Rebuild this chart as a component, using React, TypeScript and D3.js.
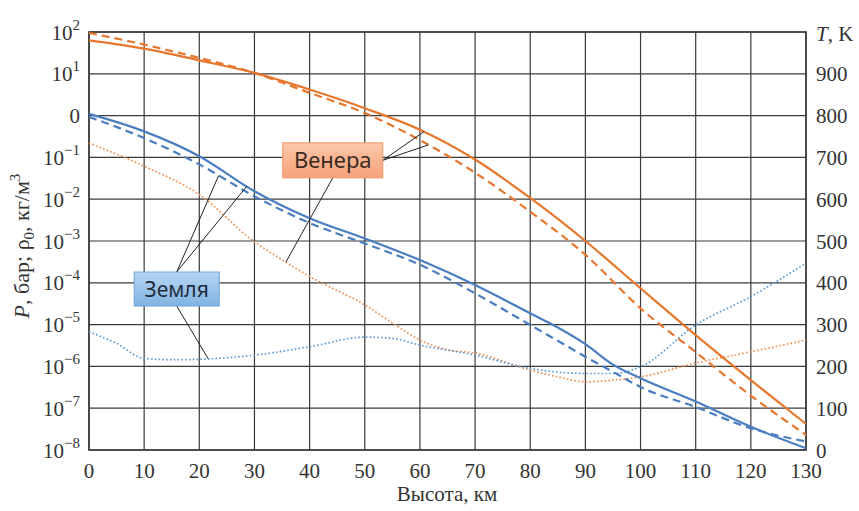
import React from "react";
import * as d3 from "d3";

// altitude, km
const kmMain = [0, 10, 20, 30, 40, 50, 60, 70, 80, 90, 100, 110, 120, 130];

// Venus, left axis (log)
const venusSolid = [63, 40, 21, 10.5, 4.2, 1.5, 0.46, 0.089, 0.0107, 1.0e-3, 7.4e-5, 5.6e-6, 4.7e-7, 4.2e-8];
const venusDashed = [95, 50, 24, 10.5, 3.5, 1.15, 0.26, 0.043, 5.0e-3, 4.7e-4, 2.45e-5, 2.2e-6, 2.0e-7, 2.3e-8];

// Earth, left axis (log)
const kmEarth = [0, 10, 20, 30, 40, 50, 60, 70, 80, 85, 90, 95, 100, 110, 120, 130];
const earthSolid = [1.1, 0.42, 0.107, 0.0155, 3.5e-3, 1.15e-3, 3.5e-4, 8.9e-5, 1.86e-5, 8.5e-6, 3.4e-6, 1.1e-6, 5.2e-7, 1.45e-7, 3.6e-8, 1.1e-8];
const earthDashed = [0.93, 0.29, 0.068, 0.0117, 2.7e-3, 8.7e-4, 2.7e-4, 5.6e-5, 9.8e-6, 4.1e-6, 1.7e-6, 7.4e-7, 3.2e-7, 1.07e-7, 3.3e-8, 1.6e-8];

// temperatures, right axis, K
const kmEarthT = [0, 5, 10, 15, 20, 30, 40, 50, 55, 60, 70, 80, 90, 95, 100, 110, 120, 130];
const earthT = [283, 255, 219, 216, 217, 227, 247, 270, 267, 251, 227, 195, 183, 183, 199, 299, 367, 447];
const kmVenusT = [0, 10, 20, 30, 35, 40, 50, 55, 60, 65, 70, 80, 85, 90, 95, 100, 110, 120, 130];
const venusT = [734, 679, 611, 498, 455, 415, 347, 304, 263, 240, 232, 191, 175, 163, 167, 175, 208, 235, 263];

const xTicks = [0, 10, 20, 30, 40, 50, 60, 70, 80, 90, 100, 110, 120, 130];
const leftExps = [2, 1, 0, -1, -2, -3, -4, -5, -6, -7, -8];
const rightTicks = [0, 100, 200, 300, 400, 500, 600, 700, 800, 900];

const ORANGE = "#E8772E";
const ORANGE_DOT = "#EF8F4E";
const BLUE = "#4A7EC0";
const BLUE_DOT = "#5B9BD5";
const GRID = "#3a3a3a";
const SERIF = "'Liberation Serif', 'Times New Roman', serif";
const SANS = "'Noto Sans', 'DejaVu Sans', sans-serif";

const W = 859;
const H = 511;

export default function App() {
  const x = d3.scaleLinear().domain([0, 130]).range([89, 806]);
  const y = d3.scaleLog().domain([1e-8, 1e2]).range([450, 32]);
  const yT = d3.scaleLinear().domain([0, 1000]).range([450, 32]);

  const logLine = (kms: number[]) =>
    d3
      .line<number>()
      .x((_, i) => x(kms[i]))
      .y((d) => y(d))
      .curve(d3.curveMonotoneX);
  const tLine = (kms: number[]) =>
    d3
      .line<number>()
      .x((_, i) => x(kms[i]))
      .y((d) => yT(d))
      .curve(d3.curveMonotoneX);

  // point on a series at a given altitude (for the leader lines)
  const at = (kms: number[], vals: number[], k: number, sc: (v: number) => number) => {
    let i = 0;
    while (i < kms.length - 2 && kms[i + 1] < k) i++;
    const t = (k - kms[i]) / (kms[i + 1] - kms[i]);
    return [x(k), sc(vals[i]) + t * (sc(vals[i + 1]) - sc(vals[i]))];
  };

  // annotation boxes (centres in data units)
  const venusBox = { cx: x(44.2), cy: y(0.085), w: 100, h: 35 };
  const earthBox = { cx: x(15.9), cy: y(7.1e-5), w: 85, h: 34 };

  const vs = at(kmMain, venusSolid, 60.7, y);
  const vd = at(kmMain, venusDashed, 61.5, y);
  const vt = at(kmVenusT, venusT, 35.7, yT);
  const ed = at(kmEarth, earthDashed, 23.5, y);
  const es = at(kmEarth, earthSolid, 28.6, y);
  const et = at(kmEarthT, earthT, 21.6, yT);

  return (
    <svg width={W} height={H} style={{ position: "absolute", left: 0, top: 0, display: "block", background: "#fff" }}>
      <defs>
        <linearGradient id="gVenus" x1="0" y1="0" x2="0" y2="1">
          <stop offset="0" stopColor="#fcc8aa" />
          <stop offset="1" stopColor="#f5a27a" />
        </linearGradient>
        <linearGradient id="gEarth" x1="0" y1="0" x2="0" y2="1">
          <stop offset="0" stopColor="#b7d6f2" />
          <stop offset="1" stopColor="#80b3e2" />
        </linearGradient>
      </defs>

      {/* grid */}
      {xTicks.map((k) => (
        <line key={"gx" + k} x1={x(k)} x2={x(k)} y1={y(1e2)} y2={y(1e-8)} stroke={GRID} strokeWidth={1.2} />
      ))}
      {leftExps.map((e) => (
        <line key={"gy" + e} x1={x(0)} x2={x(130)} y1={y(Math.pow(10, e))} y2={y(Math.pow(10, e))} stroke={GRID} strokeWidth={1.2} />
      ))}
      <rect x={x(0)} y={y(1e2)} width={x(130) - x(0)} height={y(1e-8) - y(1e2)} fill="none" stroke={GRID} strokeWidth={1.6} />

      {/* temperature curves */}
      <path d={tLine(kmVenusT)(venusT) || ""} fill="none" stroke={ORANGE_DOT} strokeWidth={1.7} strokeDasharray="1.6 2.2" />
      <path d={tLine(kmEarthT)(earthT) || ""} fill="none" stroke={BLUE_DOT} strokeWidth={1.7} strokeDasharray="1.6 2.2" />

      {/* pressure / density */}
      <path d={logLine(kmMain)(venusDashed) || ""} fill="none" stroke={ORANGE} strokeWidth={2.2} strokeDasharray="8 5" />
      <path d={logLine(kmMain)(venusSolid) || ""} fill="none" stroke={ORANGE} strokeWidth={2.2} />
      <path d={logLine(kmEarth)(earthDashed) || ""} fill="none" stroke={BLUE} strokeWidth={2.2} strokeDasharray="8 5" />
      <path d={logLine(kmEarth)(earthSolid) || ""} fill="none" stroke={BLUE} strokeWidth={2.2} />

      {/* leaders */}
      <g stroke="#222" strokeWidth={1}>
        <line x1={venusBox.cx + venusBox.w / 2} y1={venusBox.cy} x2={vs[0]} y2={vs[1]} />
        <line x1={venusBox.cx + venusBox.w / 2} y1={venusBox.cy} x2={vd[0]} y2={vd[1]} />
        <line x1={venusBox.cx} y1={venusBox.cy + venusBox.h / 2} x2={vt[0]} y2={vt[1]} />
        <line x1={earthBox.cx} y1={earthBox.cy - earthBox.h / 2} x2={ed[0]} y2={ed[1]} />
        <line x1={earthBox.cx} y1={earthBox.cy - earthBox.h / 2} x2={es[0]} y2={es[1]} />
        <line x1={earthBox.cx} y1={earthBox.cy + earthBox.h / 2} x2={et[0]} y2={et[1]} />
      </g>

      {/* label boxes */}
      <rect x={venusBox.cx - venusBox.w / 2} y={venusBox.cy - venusBox.h / 2} width={venusBox.w} height={venusBox.h} fill="url(#gVenus)" stroke="#ee9465" strokeWidth={1} />
      <text x={venusBox.cx} y={venusBox.cy + 7.5} textAnchor="middle" fontFamily={SANS} fontSize={22} fill="#3a2a22">
        Венера
      </text>
      <rect x={earthBox.cx - earthBox.w / 2} y={earthBox.cy - earthBox.h / 2} width={earthBox.w} height={earthBox.h} fill="url(#gEarth)" stroke="#6fa2d6" strokeWidth={1} />
      <text x={earthBox.cx} y={earthBox.cy + 7.5} textAnchor="middle" fontFamily={SANS} fontSize={21} fill="#1f2d3d">
        Земля
      </text>

      {/* x tick labels */}
      {xTicks.map((k) => (
        <text key={"tx" + k} x={x(k)} y={478} textAnchor="middle" fontFamily={SERIF} fontSize={21} fill="#333">
          {k}
        </text>
      ))}

      {/* left tick labels */}
      {leftExps.map((e) => (
        <text key={"ty" + e} x={80} y={y(Math.pow(10, e)) + 7.5} textAnchor="end" fontFamily={SERIF} fontSize={21} fill="#333">
          {e === 0 ? (
            "0"
          ) : (
            <>
              10
              <tspan dy={-10} fontSize={15}>
                {e < 0 ? "\u2212" + -e : String(e)}
              </tspan>
            </>
          )}
        </text>
      ))}

      {/* right tick labels */}
      {rightTicks.map((t) => (
        <text key={"tr" + t} x={816} y={yT(t) + 7.5} fontFamily={SERIF} fontSize={21} fill="#333">
          {t}
        </text>
      ))}
      <text x={816} y={yT(1000) + 9} fontFamily={SERIF} fontSize={21} fill="#333">
        <tspan fontStyle="italic">T</tspan>, K
      </text>

      {/* axis titles */}
      <text x={447} y={501} textAnchor="middle" fontFamily={SERIF} fontSize={21} fill="#333">
        Высота, км
      </text>
      <text transform="translate(29,246) rotate(-90)" textAnchor="middle" fontFamily={SERIF} fontSize={22} fill="#333">
        <tspan fontStyle="italic">P</tspan>, бар; ρ<tspan dy={5} fontSize={15}>0</tspan>
        <tspan dy={-5}>, кг/м</tspan>
        <tspan dy={-9} fontSize={15}>3</tspan>
      </text>
    </svg>
  );
}
